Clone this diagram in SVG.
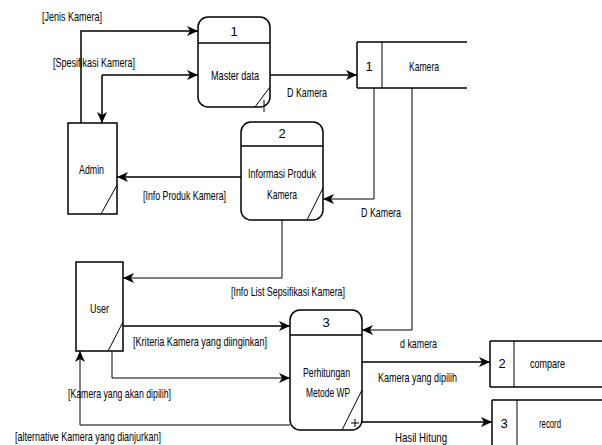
<svg xmlns="http://www.w3.org/2000/svg" width="602" height="445" viewBox="0 0 602 445">
<style>
text{font-family:"Liberation Sans",Arial,sans-serif;font-size:13px;fill:#000}
.box{fill:#fff;stroke:#000;stroke-width:1.5}
.ln{fill:none;stroke:#000;stroke-width:1.5}
.thin{fill:none;stroke:#000;stroke-width:1}
.c{text-anchor:middle}
</style>
<defs>
<marker id="ah" markerWidth="12" markerHeight="10" refX="11" refY="5" orient="auto" markerUnits="userSpaceOnUse">
<path d="M0,0 L11,5 L0,10 L3,5 Z" fill="#000"/>
</marker>
</defs>
<rect width="602" height="445" fill="#fff"/>
<g id="connectors">
<polyline class="ln" points="81,123 81,31 198,31" marker-end="url(#ah)"/>
<line class="ln" x1="102" y1="75" x2="198" y2="75" marker-end="url(#ah)"/>
<line class="ln" x1="102" y1="75" x2="102" y2="123" marker-end="url(#ah)"/>
<line class="ln" x1="270" y1="75" x2="357" y2="75" marker-end="url(#ah)"/>
<polyline class="thin" points="374,88 374,199 323,199" marker-end="url(#ah)"/>
<polyline class="thin" points="412,88 412,330 362,330" marker-end="url(#ah)"/>
<line class="ln" x1="241" y1="177" x2="117" y2="177" marker-end="url(#ah)"/>
<polyline class="thin" points="282,220 282,278 123,278" marker-end="url(#ah)"/>
<line class="ln" x1="123" y1="326" x2="290" y2="326" marker-end="url(#ah)"/>
<polyline class="thin" points="112,351 112,378 290,378" marker-end="url(#ah)"/>
<polyline class="thin" points="290,425 80,425 80,351" marker-end="url(#ah)"/>
<line class="ln" x1="362" y1="362" x2="490" y2="362" marker-end="url(#ah)"/>
<line class="ln" x1="362" y1="422" x2="492" y2="422" marker-end="url(#ah)"/>
<text x="42" y="21" textLength="60" lengthAdjust="spacingAndGlyphs">[Jenis Kamera]</text>
<text x="53" y="67" textLength="82" lengthAdjust="spacingAndGlyphs">[Spesifikasi Kamera]</text>
<text x="287" y="97" textLength="40" lengthAdjust="spacingAndGlyphs">D Kamera</text>
<text x="143" y="200" textLength="83" lengthAdjust="spacingAndGlyphs">[Info Produk Kamera]</text>
<text x="361" y="217" textLength="40" lengthAdjust="spacingAndGlyphs">D Kamera</text>
<text x="231" y="296" textLength="114" lengthAdjust="spacingAndGlyphs">[Info List Sepsifikasi Kamera]</text>
<text x="133" y="346" textLength="134" lengthAdjust="spacingAndGlyphs">[Kriteria Kamera yang diinginkan]</text>
<text x="68" y="398" textLength="103" lengthAdjust="spacingAndGlyphs">[Kamera yang akan dipilih]</text>
<text x="15" y="441" textLength="146" lengthAdjust="spacingAndGlyphs">[alternative Kamera yang dianjurkan]</text>
<text x="400" y="348" textLength="37" lengthAdjust="spacingAndGlyphs">d kamera</text>
<text x="378" y="382" textLength="79" lengthAdjust="spacingAndGlyphs">Kamera yang dipilih</text>
<text x="395" y="442" textLength="52" lengthAdjust="spacingAndGlyphs">Hasil Hitung</text>
</g>
<g id="p1">
<rect class="box" x="198" y="17" width="72" height="90" rx="10"/>
<line class="ln" x1="198" y1="43" x2="270" y2="43"/>
<line class="thin" x1="255" y1="107" x2="270" y2="87"/>
<line class="thin" x1="264" y1="100" x2="264" y2="112"/>
<text class="c" x="234" y="36">1</text>
<text x="211" y="80" textLength="48" lengthAdjust="spacingAndGlyphs">Master data</text>
</g>
<g id="store1">
<line class="ln" x1="357" y1="42" x2="467" y2="42"/>
<line class="ln" x1="357" y1="88" x2="467" y2="88"/>
<line class="ln" x1="357" y1="42" x2="357" y2="88"/>
<line class="thin" x1="382" y1="42" x2="382" y2="88"/>
<text class="c" x="369" y="71">1</text>
<text x="409" y="71" textLength="30" lengthAdjust="spacingAndGlyphs">Kamera</text>
</g>
<g id="admin">
<rect class="box" x="68" y="123" width="49" height="91"/>
<line class="thin" x1="101" y1="214" x2="117" y2="185"/>
<text x="79" y="174" textLength="25" lengthAdjust="spacingAndGlyphs">Admin</text>
</g>
<g id="p2">
<rect class="box" x="241" y="122" width="82" height="98" rx="10"/>
<line class="ln" x1="241" y1="146" x2="323" y2="146"/>
<line class="thin" x1="307" y1="220" x2="323" y2="188"/>
<text class="c" x="282" y="138">2</text>
<text x="248" y="178" textLength="68" lengthAdjust="spacingAndGlyphs">Informasi Produk</text>
<text x="267" y="199" textLength="30" lengthAdjust="spacingAndGlyphs">Kamera</text>
</g>
<g id="user">
<rect class="box" x="76" y="262" width="47" height="89"/>
<line class="thin" x1="108" y1="351" x2="123" y2="322"/>
<text x="90" y="313" textLength="19" lengthAdjust="spacingAndGlyphs">User</text>
</g>
<g id="p3">
<rect class="box" x="290" y="310" width="72" height="120" rx="10"/>
<line class="ln" x1="290" y1="335" x2="362" y2="335"/>
<line class="thin" x1="342" y1="430" x2="362" y2="390"/>
<line class="thin" x1="351" y1="423" x2="359" y2="423"/>
<line class="thin" x1="355" y1="419" x2="355" y2="427"/>
<text class="c" x="326" y="327">3</text>
<text x="303" y="377" textLength="47" lengthAdjust="spacingAndGlyphs">Perhitungan</text>
<text x="306" y="397" textLength="44" lengthAdjust="spacingAndGlyphs">Metode WP</text>
</g>
<g id="store2">
<line class="ln" x1="490" y1="341" x2="602" y2="341"/>
<line class="ln" x1="490" y1="387" x2="602" y2="387"/>
<line class="ln" x1="490" y1="341" x2="490" y2="387"/>
<line class="thin" x1="514" y1="341" x2="514" y2="387"/>
<text class="c" x="502" y="368">2</text>
<text x="530" y="368" textLength="35" lengthAdjust="spacingAndGlyphs">compare</text>
</g>
<g id="store3">
<line class="ln" x1="492" y1="400" x2="602" y2="400"/>
<line class="ln" x1="492" y1="400" x2="492" y2="446"/>
<line class="thin" x1="517" y1="400" x2="517" y2="446"/>
<text class="c" x="504" y="428">3</text>
<text x="539" y="428" textLength="22" lengthAdjust="spacingAndGlyphs">record</text>
</g>
</svg>
